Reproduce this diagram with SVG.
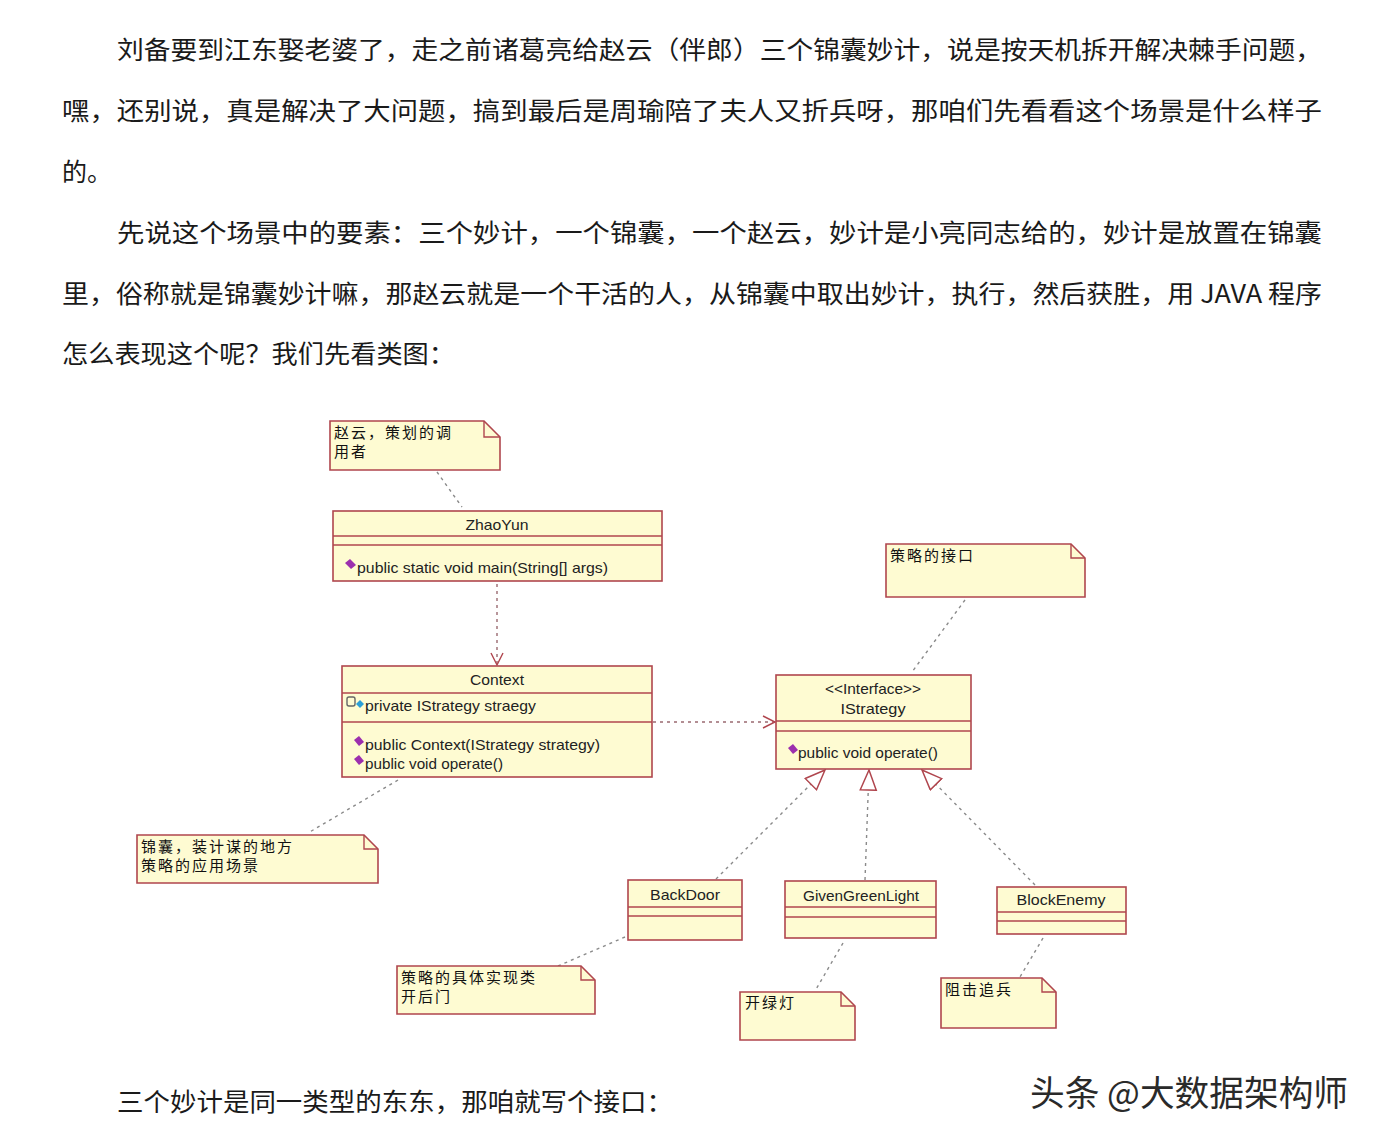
<svg xmlns="http://www.w3.org/2000/svg" width="1382" height="1142" viewBox="0 0 1382 1142">
<style>
.p{font-family:"Noto Sans CJK SC","Noto Sans CJK JP",sans-serif;font-size:25px;fill:#1a1a1a}
.box{fill:#fefbd2;stroke:#b0464e;stroke-width:1.6}
.ln{stroke:#b0464e;stroke-width:1.4}
.t{font-family:"Liberation Sans","Noto Sans CJK SC",sans-serif;font-size:15px;fill:#222}
.n{font-family:"Noto Sans CJK SC",sans-serif;font-size:15px;letter-spacing:2px;fill:#111}
.c{text-anchor:middle}
.dot{fill:none;stroke:#8a8a8a;stroke-width:1.4;stroke-dasharray:3,4}
.dep{fill:none;stroke:#9a6a70;stroke-width:1.4;stroke-dasharray:3,4}
.op{fill:#9c2fae}
.wm{font-family:"Noto Sans CJK SC",sans-serif;font-size:35px;fill:#2a2a2a}
</style>
<defs>
<marker id="open" markerUnits="userSpaceOnUse" markerWidth="16" markerHeight="16" refX="13" refY="7" orient="auto">
<path d="M1,1 L13,7 L1,13" fill="none" stroke="#b0464e" stroke-width="1.4"/>
</marker>
<marker id="tri" markerUnits="userSpaceOnUse" markerWidth="24" markerHeight="20" refX="21" refY="9" orient="auto">
<path d="M1,1 L21,9 L1,17 Z" fill="#fff" stroke="#b0464e" stroke-width="1.5"/>
</marker>
</defs>
<rect width="1382" height="1142" fill="#fff"/>

<g id="paragraphs">
<text class="p" x="117" y="59" textLength="1205" lengthAdjust="spacingAndGlyphs">刘备要到江东娶老婆了，走之前诸葛亮给赵云（伴郎）三个锦囊妙计，说是按天机拆开解决棘手问题，</text>
<text class="p" x="62" y="120" textLength="1260" lengthAdjust="spacingAndGlyphs">嘿，还别说，真是解决了大问题，搞到最后是周瑜陪了夫人又折兵呀，那咱们先看看这个场景是什么样子</text>
<text class="p" x="62" y="181">的。</text>
<text class="p" x="117" y="242" textLength="1205" lengthAdjust="spacingAndGlyphs">先说这个场景中的要素：三个妙计，一个锦囊，一个赵云，妙计是小亮同志给的，妙计是放置在锦囊</text>
<text class="p" x="62" y="303" textLength="1260" lengthAdjust="spacingAndGlyphs">里，俗称就是锦囊妙计嘛，那赵云就是一个干活的人，从锦囊中取出妙计，执行，然后获胜，用 JAVA 程序</text>
<text class="p" x="62" y="363" textLength="393" lengthAdjust="spacingAndGlyphs">怎么表现这个呢？我们先看类图：</text>
<text class="p" x="117" y="1111" textLength="556" lengthAdjust="spacingAndGlyphs">三个妙计是同一类型的东东，那咱就写个接口：</text>
</g>

<g id="connectors">
<line class="dot" x1="437" y1="472" x2="462" y2="507"/>
<line class="dep" x1="497" y1="584" x2="497" y2="665" marker-end="url(#open)"/>
<line class="dep" x1="653" y1="722" x2="775" y2="722" marker-end="url(#open)"/>
<line class="dot" x1="965" y1="600" x2="912" y2="672"/>
<line class="dot" x1="398" y1="780" x2="308" y2="833"/>
<line class="dot" x1="716" y1="879" x2="825" y2="770" marker-end="url(#tri)"/>
<line class="dot" x1="865" y1="880" x2="869" y2="770" marker-end="url(#tri)"/>
<line class="dot" x1="1035" y1="885" x2="922" y2="770" marker-end="url(#tri)"/>
<line class="dot" x1="625" y1="937" x2="558" y2="966"/>
<line class="dot" x1="843" y1="943" x2="815" y2="991"/>
<line class="dot" x1="1043" y1="938" x2="1020" y2="977"/>
</g>

<g id="note-zhaoyun">
<path class="box" d="M330,421 H484 L500,437 V470 H330 Z"/>
<path class="ln" fill="none" d="M484,421 V437 H500"/>
<text class="n" x="334" y="438">赵云，策划的调</text>
<text class="n" x="334" y="457">用者</text>
</g>

<g id="class-zhaoyun">
<rect class="box" x="333" y="511" width="329" height="70"/>
<line class="ln" x1="333" y1="536" x2="662" y2="536"/>
<line class="ln" x1="333" y1="545" x2="662" y2="545"/>
<text class="t c" x="497" y="530" textLength="63" lengthAdjust="spacingAndGlyphs">ZhaoYun</text>
<polygon class="op" points="345,563 350,559 356,565 351,569"/>
<text class="t" x="357" y="573" textLength="251" lengthAdjust="spacingAndGlyphs">public static void main(String[] args)</text>
</g>

<g id="class-context">
<rect class="box" x="342" y="666" width="310" height="111"/>
<line class="ln" x1="342" y1="693" x2="652" y2="693"/>
<line class="ln" x1="342" y1="722" x2="652" y2="722"/>
<text class="t c" x="497" y="685" textLength="54" lengthAdjust="spacingAndGlyphs">Context</text>
<rect x="347" y="697" width="8" height="9" rx="2" fill="none" stroke="#666" stroke-width="1.4"/>
<polygon points="356,704 360,700 364,704 360,708" fill="#2aa0d8"/>
<text class="t" x="365" y="711" textLength="171" lengthAdjust="spacingAndGlyphs">private IStrategy straegy</text>
<polygon class="op" points="354,740 359,736 364,742 359,746"/>
<text class="t" x="365" y="750" textLength="235" lengthAdjust="spacingAndGlyphs">public Context(IStrategy strategy)</text>
<polygon class="op" points="354,759 359,755 364,761 359,765"/>
<text class="t" x="365" y="769" textLength="138" lengthAdjust="spacingAndGlyphs">public void operate()</text>
</g>

<g id="note-interface">
<path class="box" d="M886,544 H1071 L1085,558 V597 H886 Z"/>
<path class="ln" fill="none" d="M1071,544 V558 H1085"/>
<text class="n" x="890" y="561">策略的接口</text>
</g>

<g id="class-istrategy">
<rect class="box" x="776" y="675" width="195" height="94"/>
<line class="ln" x1="776" y1="721" x2="971" y2="721"/>
<line class="ln" x1="776" y1="731" x2="971" y2="731"/>
<text class="t c" x="873" y="694" textLength="96" lengthAdjust="spacingAndGlyphs">&lt;&lt;Interface&gt;&gt;</text>
<text class="t c" x="873" y="714" textLength="65" lengthAdjust="spacingAndGlyphs">IStrategy</text>
<polygon class="op" points="788,748 793,744 798,750 793,754"/>
<text class="t" x="798" y="758" textLength="140" lengthAdjust="spacingAndGlyphs">public void operate()</text>
</g>

<g id="note-context">
<path class="box" d="M137,835 H364 L378,849 V883 H137 Z"/>
<path class="ln" fill="none" d="M364,835 V849 H378"/>
<text class="n" x="141" y="852">锦囊，装计谋的地方</text>
<text class="n" x="141" y="871">策略的应用场景</text>
</g>

<g id="class-backdoor">
<rect class="box" x="628" y="880" width="114" height="60"/>
<line class="ln" x1="628" y1="907" x2="742" y2="907"/>
<line class="ln" x1="628" y1="916" x2="742" y2="916"/>
<text class="t c" x="685" y="900" textLength="70" lengthAdjust="spacingAndGlyphs">BackDoor</text>
</g>

<g id="class-givengreenlight">
<rect class="box" x="785" y="881" width="151" height="57"/>
<line class="ln" x1="785" y1="907" x2="936" y2="907"/>
<line class="ln" x1="785" y1="917" x2="936" y2="917"/>
<text class="t c" x="861" y="901" textLength="116" lengthAdjust="spacingAndGlyphs">GivenGreenLight</text>
</g>

<g id="class-blockenemy">
<rect class="box" x="997" y="887" width="129" height="47"/>
<line class="ln" x1="997" y1="912" x2="1126" y2="912"/>
<line class="ln" x1="997" y1="921" x2="1126" y2="921"/>
<text class="t c" x="1061" y="905" textLength="89" lengthAdjust="spacingAndGlyphs">BlockEnemy</text>
</g>

<g id="note-backdoor">
<path class="box" d="M397,966 H581 L595,980 V1014 H397 Z"/>
<path class="ln" fill="none" d="M581,966 V980 H595"/>
<text class="n" x="401" y="983">策略的具体实现类</text>
<text class="n" x="401" y="1002">开后门</text>
</g>

<g id="note-greenlight">
<path class="box" d="M740,992 H841 L855,1006 V1040 H740 Z"/>
<path class="ln" fill="none" d="M841,992 V1006 H855"/>
<text class="n" x="745" y="1008">开绿灯</text>
</g>

<g id="note-blockenemy">
<path class="box" d="M941,978 H1042 L1056,992 V1028 H941 Z"/>
<path class="ln" fill="none" d="M1042,978 V992 H1056"/>
<text class="n" x="945" y="995">阻击追兵</text>
</g>

<g id="watermark">
<text class="wm" x="1032" y="1108" style="fill:#fff" textLength="318" lengthAdjust="spacingAndGlyphs">头条 @大数据架构师</text>
<text class="wm" x="1030" y="1106" textLength="318" lengthAdjust="spacingAndGlyphs">头条 @大数据架构师</text>
</g>
</svg>
